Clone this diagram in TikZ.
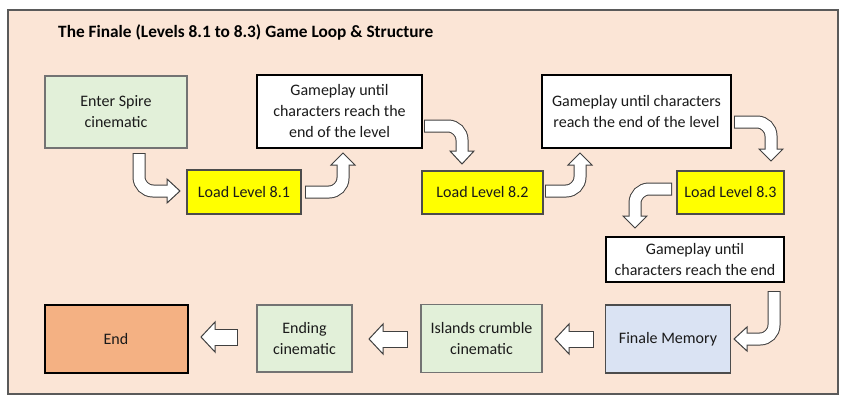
\documentclass[tikz,border=0pt]{standalone}
\usepackage{fontspec}
\setmainfont{Carlito}
\usetikzlibrary{calc}
\definecolor{bgpeach}{HTML}{FBE5D6}
\definecolor{framegray}{HTML}{5A5A5A}
\definecolor{greenfill}{HTML}{E2F0D9}
\definecolor{bluefill}{HTML}{DAE3F3}
\definecolor{endfill}{HTML}{F4B183}
\definecolor{yellowfill}{HTML}{FFFF00}
\definecolor{arrowgray}{HTML}{404040}
\definecolor{txt}{HTML}{1A1A1A}
\newcommand\bentarrow[4]{%
  \draw[arrowgray, line width=13pt, rounded corners=14pt] ($(#1)!-1pt!(#2)$) -- (#2) -- (#3);
  \filldraw[fill=white, draw=arrowgray, line width=1pt, line join=miter] (#4) -- ($(#3)!12pt!90:(#4)$) -- ($(#3)!12pt!-90:(#4)$) -- cycle;
  \draw[white, line width=11pt, rounded corners=14pt] (#1) -- (#2) -- ($(#3)!1.5pt!(#4)$);
}
\newcommand\straightarrow[3]{%
  \draw[arrowgray, line width=17pt] ($(#1)!-1pt!(#2)$) -- (#2);
  \filldraw[fill=white, draw=arrowgray, line width=1pt, line join=miter] (#3) -- ($(#2)!15pt!90:(#3)$) -- ($(#2)!15pt!-90:(#3)$) -- cycle;
  \draw[white, line width=15pt] (#1) -- ($(#2)!1.5pt!(#3)$);
}
\tikzset{
  box/.style={draw, inner sep=0pt, align=center, text=txt,
    font=\fontsize{16}{21}\selectfont},
  greenbox/.style={box, fill=greenfill, draw=gray!90!black, line width=1.2pt},
  whitebox/.style={box, fill=white, draw=black, line width=2pt},
  yellowbox/.style={box, fill=yellowfill, draw=black!70, line width=1.2pt},
  bluebox/.style={box, fill=bluefill, draw=black!70, line width=1.2pt},
  endbox/.style={box, fill=endfill, draw=black, line width=2pt},
}
\begin{document}
\begin{tikzpicture}[x=1pt,y=-1pt]
\useasboundingbox (0,0) rectangle (850,404);
\fill[white] (0,0) rectangle (850,404);
\draw[framegray, line width=1.6pt, fill=bgpeach] (8,10) rectangle (838,394);
\node[anchor=west, text=black, inner sep=0pt, font=\fontsize{17.3}{21}\selectfont\bfseries] (title) at (58,32)
  {The Finale (Levels 8.1 to 8.3) Game Loop \& Structure};

\node[greenbox, minimum width=142pt, minimum height=72pt] (enter) at (116,112) {Enter Spire\\cinematic};
\node[whitebox, minimum width=165pt, minimum height=73pt] (gp1) at (339.5,111.5) {Gameplay until\\characters reach the\\end of the level};
\node[yellowbox, minimum width=114pt, minimum height=44pt] (l81) at (244,192) {Load Level 8.1};
\node[yellowbox, minimum width=121pt, minimum height=43pt] (l82) at (482.5,192.5) {Load Level 8.2};
\node[whitebox, minimum width=189pt, minimum height=73pt] (gp2) at (636.5,111.5) {Gameplay until characters\\reach the end of the level};
\node[yellowbox, minimum width=107pt, minimum height=43pt] (l83) at (730.5,192.5) {Load Level 8.3};
\node[whitebox, minimum width=178pt, minimum height=45pt] (gp3) at (695,259.5) {Gameplay until\\characters reach the end};
\node[bluebox, minimum width=125pt, minimum height=68pt] (fin) at (668,339) {Finale Memory};
\node[greenbox, minimum width=121pt, minimum height=68pt] (isl) at (481.5,338.5) {Islands crumble\\cinematic};
\node[greenbox, minimum width=95pt, minimum height=67pt] (endc) at (304.5,338.5) {Ending\\cinematic};
\node[endbox, minimum width=143pt, minimum height=68pt] (end) at (116,338.5) {End};

% bent arrows
\coordinate (a1s) at (139,154); \coordinate (a1c) at (139,191); \coordinate (a1b) at (167,191); \coordinate (a1t) at (180,191);
\bentarrow{a1s}{a1c}{a1b}{a1t}
\coordinate (a2s) at (306,192); \coordinate (a2c) at (343,192); \coordinate (a2b) at (343,165); \coordinate (a2t) at (343,153);
\bentarrow{a2s}{a2c}{a2b}{a2t}
\coordinate (a3s) at (425,126); \coordinate (a3c) at (462,126); \coordinate (a3b) at (462,151); \coordinate (a3t) at (462,164);
\bentarrow{a3s}{a3c}{a3b}{a3t}
\coordinate (a4s) at (546,191); \coordinate (a4c) at (580,191); \coordinate (a4b) at (580,165); \coordinate (a4t) at (580,153);
\bentarrow{a4s}{a4c}{a4b}{a4t}
\coordinate (a5s) at (735,122); \coordinate (a5c) at (771,122); \coordinate (a5b) at (771,149); \coordinate (a5t) at (771,161);
\bentarrow{a5s}{a5c}{a5b}{a5t}
\coordinate (a6s) at (671,189); \coordinate (a6c) at (635,189); \coordinate (a6b) at (635,216); \coordinate (a6t) at (635,228);
\bentarrow{a6s}{a6c}{a6b}{a6t}
\coordinate (a7s) at (774,292); \coordinate (a7c) at (774,339); \coordinate (a7b) at (747,339); \coordinate (a7t) at (734,339);
\bentarrow{a7s}{a7c}{a7b}{a7t}

% straight arrows
\coordinate (s1s) at (593,339); \coordinate (s1b) at (569,339); \coordinate (s1t) at (555,339);
\straightarrow{s1s}{s1b}{s1t}
\coordinate (s2s) at (407,339); \coordinate (s2b) at (383,339); \coordinate (s2t) at (369,339);
\straightarrow{s2s}{s2b}{s2t}
\coordinate (s3s) at (237,337); \coordinate (s3b) at (215,337); \coordinate (s3t) at (201,337);
\straightarrow{s3s}{s3b}{s3t}
\end{tikzpicture}
\end{document}
